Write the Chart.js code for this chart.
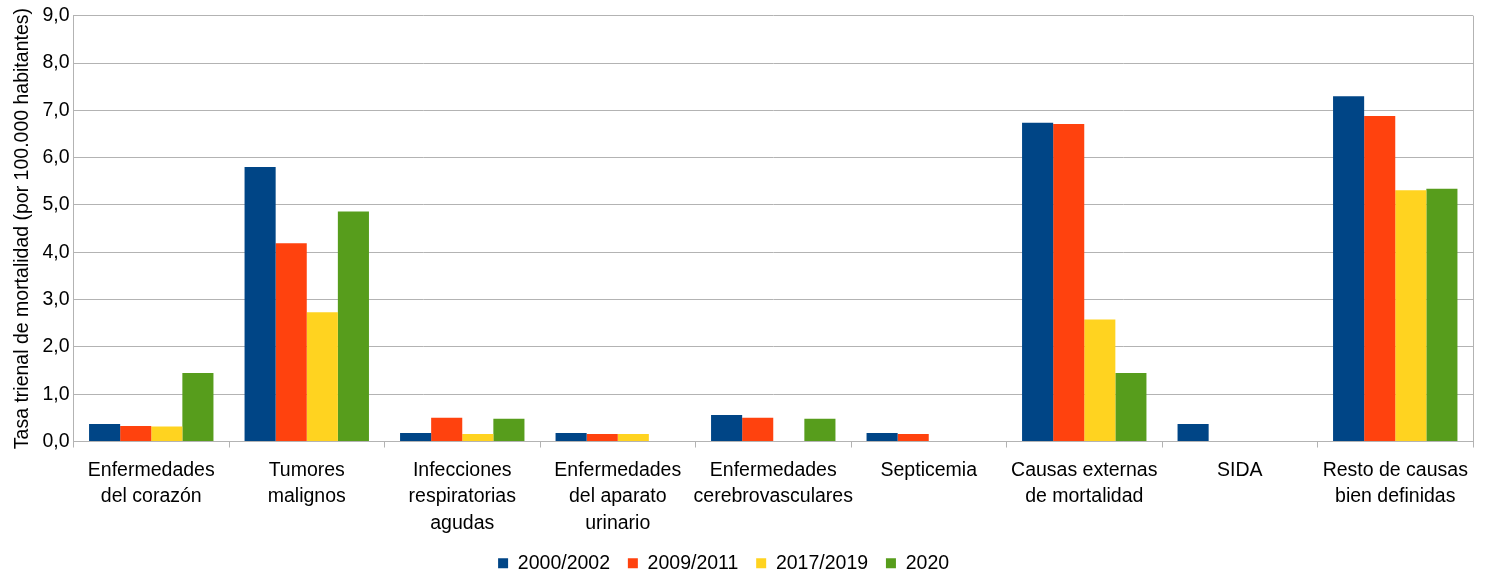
<!DOCTYPE html>
<html>
<head>
<meta charset="utf-8">
<script src="https://cdn.jsdelivr.net/npm/chart.js@4"></script>
<style>
  html, body { margin: 0; padding: 0; background: #fff; }
  #wrap { width: 1489px; height: 576px; }
</style>
</head>
<body>
<div id="wrap"><canvas id="chart"></canvas></div>
<script>
const categories = [
  ["Enfermedades", "del corazón"],
  ["Tumores", "malignos"],
  ["Infecciones", "respiratorias", "agudas"],
  ["Enfermedades", "del aparato", "urinario"],
  ["Enfermedades", "cerebrovasculares"],
  ["Septicemia"],
  ["Causas externas", "de mortalidad"],
  ["SIDA"],
  ["Resto de causas", "bien definidas"]
];
const seriesNames = ["2000/2002", "2009/2011", "2017/2019", "2020"];
const v2000 = [0.37, 5.80, 0.18, 0.18, 0.56, 0.18, 6.74, 0.37, 7.30];
const v2009 = [0.33, 4.19, 0.50, 0.16, 0.50, 0.16, 6.71, null, 6.88];
const v2017 = [0.32, 2.73, 0.16, 0.16, null, null, 2.58, null, 5.31];
const v2020 = [1.45, 4.86, 0.48, null, 0.48, null, 1.45, null, 5.34];
const colors = ["#004586", "#ff420e", "#ffd320", "#579d1c"];

const font = { family: "'Liberation Sans', Arial, sans-serif", size: 19.5 };

// right border of the plot area + nudge the legend a bit to the left
const frame = {
  id: 'frame',
  afterLayout(chart) {
    chart.legend.left -= 13;
    chart.legend.right -= 13;
  },
  afterDraw(chart) {
    const a = chart.chartArea, c = chart.ctx;
    c.save();
    c.strokeStyle = '#b3b3b3';
    c.lineWidth = 1;
    c.beginPath();
    c.moveTo(Math.round(a.right) + 0.5, a.top);
    c.lineTo(Math.round(a.right) + 0.5, a.bottom);
    c.stroke();
    c.restore();
  }
};

const ctx = document.getElementById('chart').getContext('2d');
new Chart(ctx, {
  type: 'bar',
  data: {
    labels: categories,
    datasets: [v2000, v2009, v2017, v2020].map((d, i) => ({
      label: seriesNames[i],
      data: d,
      backgroundColor: colors[i],
      borderWidth: 0,
      categoryPercentage: 0.8,
      barPercentage: 1.0
    }))
  },
  options: {
    responsive: true,
    maintainAspectRatio: false,
    animation: false,
    // negative bottom padding: lets the legend sit lower, like the original
    layout: { padding: { top: 3, right: 16, left: 11, bottom: -7 } },
    plugins: {
      legend: {
        position: 'bottom',
        labels: {
          color: '#000',
          font: font,
          boxWidth: 10,
          boxHeight: 10,
          padding: 7,
          generateLabels(chart) {
            const items = Chart.defaults.plugins.legend.labels.generateLabels(chart);
            items.forEach(it => { it.text = it.text + '\u00a0\u00a0'; });
            return items;
          }
        }
      },
      tooltip: { enabled: false }
    },
    scales: {
      x: {
        grid: {
          offset: true,
          drawOnChartArea: false,
          drawTicks: true,
          tickLength: 6,
          color: '#b3b3b3'
        },
        border: { color: '#b3b3b3' },
        ticks: {
          color: '#000',
          font: { ...font, lineHeight: 1.35 },
          maxRotation: 0,
          autoSkip: false,
          padding: 10
        }
      },
      y: {
        min: 0,
        max: 9,
        grid: { color: '#b3b3b3', drawTicks: false },
        border: { color: '#b3b3b3' },
        ticks: {
          stepSize: 1,
          color: '#000',
          font: font,
          padding: 4,
          callback: v => v.toFixed(1).replace('.', ',')
        },
        title: {
          display: true,
          text: 'Tasa trienal de mortalidad (por 100.000 habitantes)',
          color: '#000',
          font: font,
          padding: { top: 0, bottom: 4 }
        }
      }
    }
  },
  plugins: [frame]
});
</script>
</body>
</html>
